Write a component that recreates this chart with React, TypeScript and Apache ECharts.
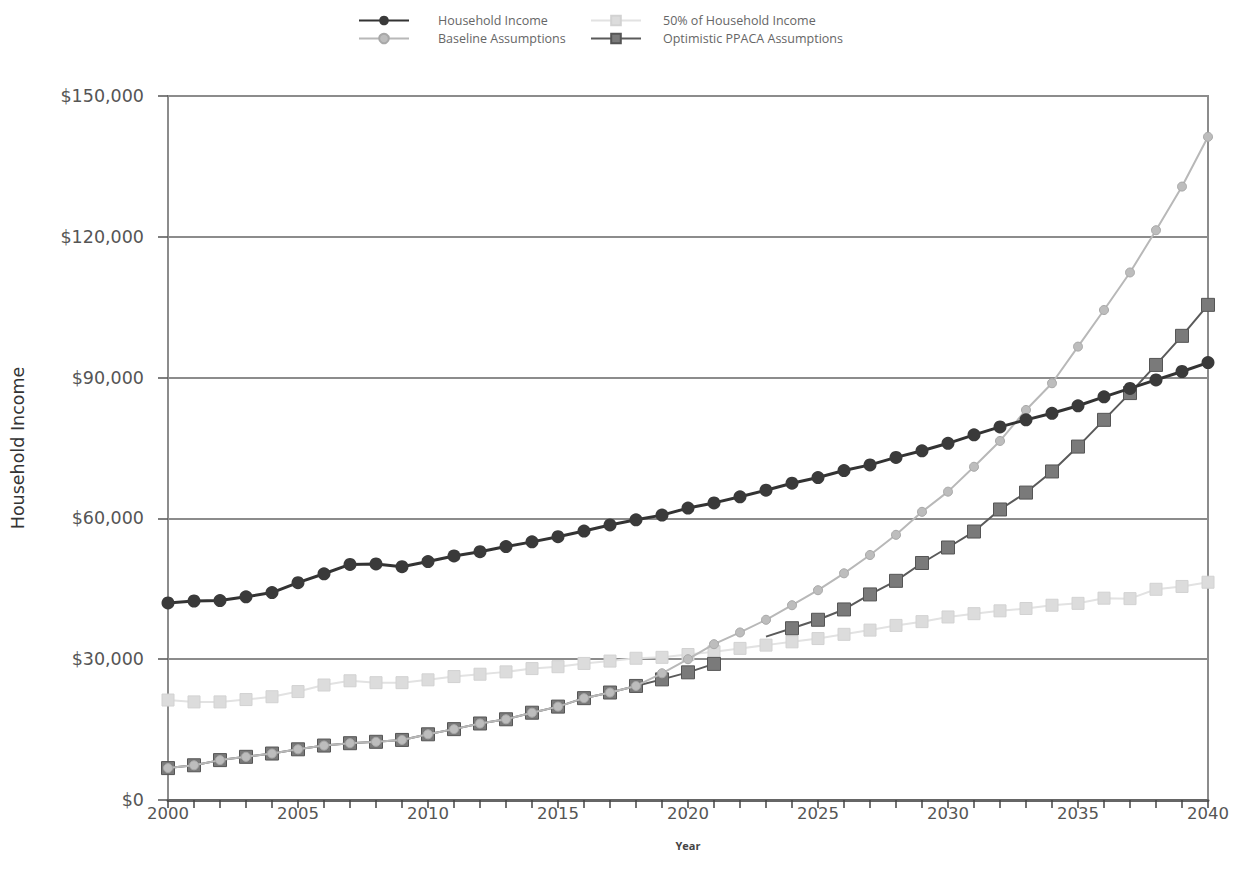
import React, { useEffect, useRef } from "react";
import * as echarts from "echarts";

const years = [
  2000, 2001, 2002, 2003, 2004, 2005, 2006, 2007, 2008, 2009,
  2010, 2011, 2012, 2013, 2014, 2015, 2016, 2017, 2018, 2019,
  2020, 2021, 2022, 2023, 2024, 2025, 2026, 2027, 2028, 2029,
  2030, 2031, 2032, 2033, 2034, 2035, 2036, 2037, 2038, 2039,
  2040,
];

const householdIncome = [
  42000, 42400, 42500, 43300, 44200, 46300, 48200, 50200, 50300, 49700,
  50800, 52000, 52900, 54000, 55000, 56100, 57300, 58600, 59700, 60700,
  62200, 63300, 64600, 66000, 67500, 68700, 70200, 71400, 73000, 74400,
  76000, 77800, 79500, 81000, 82400, 84000, 85900, 87700, 89500, 91300,
  93200,
];

const halfIncome = [
  21300, 20900, 20900, 21400, 22000, 23100, 24500, 25400, 25000, 25000,
  25600, 26300, 26800, 27300, 28000, 28400, 29100, 29600, 30200, 30400,
  31000, 31600, 32300, 33000, 33700, 34400, 35300, 36200, 37200, 38000,
  39000, 39700, 40300, 40800, 41500, 41900, 43000, 42900, 44900, 45500,
  46400,
];

const baseline = [
  6800, 7400, 8500, 9200, 9900, 10800, 11600, 12100, 12400, 12800,
  14000, 15100, 16300, 17200, 18600, 19900, 21700, 22900, 24300, 27000,
  30000, 33200, 35700, 38400, 41500, 44700, 48300, 52200, 56500, 61400,
  65700, 71000, 76500, 83100, 88800, 96600, 104400, 112400, 121400, 130700,
  141300,
];

const optimistic = [
  6800, 7400, 8500, 9200, 9900, 10800, 11600, 12100, 12400, 12800,
  14000, 15100, 16300, 17200, 18600, 19900, 21700, 22900, 24300, 25700,
  27200, 29000, null, 34800, 36600, 38400, 40600, 43800, 46700, 50500,
  53800, 57200, 61900, 65500, 70000, 75300, 81000, 86700, 92700, 98900,
  105500,
];

const optimisticNoMarkerYears = [2023];

const yTicks = [0, 30000, 60000, 90000, 120000, 150000];

const seriesNames = [
  "Household Income",
  "50% of Household Income",
  "Baseline Assumptions",
  "Optimistic PPACA Assumptions",
];

const FONT = "'Open Sans', 'Noto Sans', sans-serif";
const AXIS_FONT = "'DejaVu Sans', sans-serif";

export default function App() {
  const ref = useRef<HTMLDivElement>(null);

  useEffect(() => {
    if (!ref.current) return;
    const chart = echarts.init(ref.current, null, { renderer: "svg" });

    const pairs = (arr: (number | null)[]) =>
      arr.map((v, i) => [years[i], v]);

    const optData = optimistic.map((v, i) => {
      if (optimisticNoMarkerYears.includes(years[i])) {
        return { value: [years[i], v], symbol: "none" };
      }
      return [years[i], v];
    });

    const legendBase = (pad: number) => ({
      orient: "horizontal" as const,
      itemWidth: 50,
      itemHeight: 12,
      padding: 0,
      textStyle: {
        color: "#666",
        fontSize: 12.5,
        fontFamily: FONT,
        padding: [0, 0, 0, pad],
      },
      selectedMode: false,
    });

    const option: any = {
      animation: false,
      backgroundColor: "#ffffff",
      textStyle: { fontFamily: FONT },
      legend: [
        { ...legendBase(24), data: [seriesNames[0]], left: 358, top: 14 },
        { ...legendBase(17), data: [seriesNames[1]], left: 590, top: 14 },
        { ...legendBase(24), data: [seriesNames[2]], left: 358, top: 32 },
        { ...legendBase(17), data: [seriesNames[3]], left: 590, top: 32 },
      ],
      grid: {
        left: 168,
        right: 29,
        top: 96,
        bottom: 85,
        show: true,
        borderColor: "#8c8c8c",
        borderWidth: 2,
        backgroundColor: "transparent",
      },
      xAxis: {
        type: "value",
        min: 2000,
        max: 2040,
        interval: 5,
        name: "Year",
        nameLocation: "middle",
        nameGap: 40,
        nameTextStyle: {
          color: "#444",
          fontSize: 11,
          fontWeight: "bold",
          fontFamily: FONT,
        },
        axisLine: { show: true, lineStyle: { color: "#666", width: 3 } },
        axisTick: {
          show: true,
          length: 8,
          inside: false,
          lineStyle: { color: "#444", width: 1.5 },
        },
        minorTick: {
          show: true,
          splitNumber: 5,
          length: 8,
          lineStyle: { color: "#444", width: 1.5 },
        },
        splitLine: { show: false },
        axisLabel: {
          color: "#555",
          fontSize: 16.5,
          fontFamily: AXIS_FONT,
          margin: 5,
          formatter: (v: number) => String(v),
        },
      },
      yAxis: {
        type: "value",
        min: yTicks[0],
        max: yTicks[yTicks.length - 1],
        interval: yTicks[1] - yTicks[0],
        name: "Household Income",
        nameLocation: "middle",
        nameGap: 141,
        nameRotate: 90,
        nameTextStyle: {
          color: "#333",
          fontSize: 17.5,
          fontFamily: AXIS_FONT,
        },
        axisLine: { show: true, lineStyle: { color: "#8c8c8c", width: 2 } },
        axisTick: {
          show: true,
          length: 10,
          lineStyle: { color: "#555", width: 1.5 },
        },
        splitLine: { show: true, lineStyle: { color: "#8c8c8c", width: 2 } },
        axisLabel: {
          color: "#555",
          fontSize: 17.5,
          fontFamily: AXIS_FONT,
          margin: 24,
          formatter: (v: number) => "$" + v.toLocaleString("en-US"),
        },
      },
      series: [
        {
          name: seriesNames[1],
          type: "line",
          data: pairs(halfIncome),
          symbol: "rect",
          symbolSize: 12,
          lineStyle: { color: "#e2e2e2", width: 2 },
          itemStyle: { color: "#dcdcdc", borderColor: "#d2d2d2", borderWidth: 1 },
          z: 2,
        },
        {
          name: seriesNames[3],
          type: "line",
          data: optData,
          symbol: "rect",
          symbolSize: 13,
          connectNulls: false,
          lineStyle: { color: "#5a5a5a", width: 2 },
          itemStyle: { color: "#7a7a7a", borderColor: "#555", borderWidth: 1 },
          z: 3,
        },
        {
          name: seriesNames[2],
          type: "line",
          data: pairs(baseline),
          symbol: "circle",
          symbolSize: 9,
          lineStyle: { color: "#b8b8b8", width: 2 },
          itemStyle: { color: "#bdbdbd", borderColor: "#a8a8a8", borderWidth: 1 },
          z: 4,
        },
        {
          name: seriesNames[0],
          type: "line",
          data: pairs(householdIncome),
          symbol: "circle",
          symbolSize: 13,
          lineStyle: { color: "#333", width: 3 },
          itemStyle: { color: "#3a3a3a" },
          z: 5,
        },
      ],
    };

    chart.setOption(option);
    return () => chart.dispose();
  }, []);

  return (
    <div
      ref={ref}
      style={{ position: "absolute", left: 0, top: 0, width: 1237, height: 885 }}
    />
  );
}
